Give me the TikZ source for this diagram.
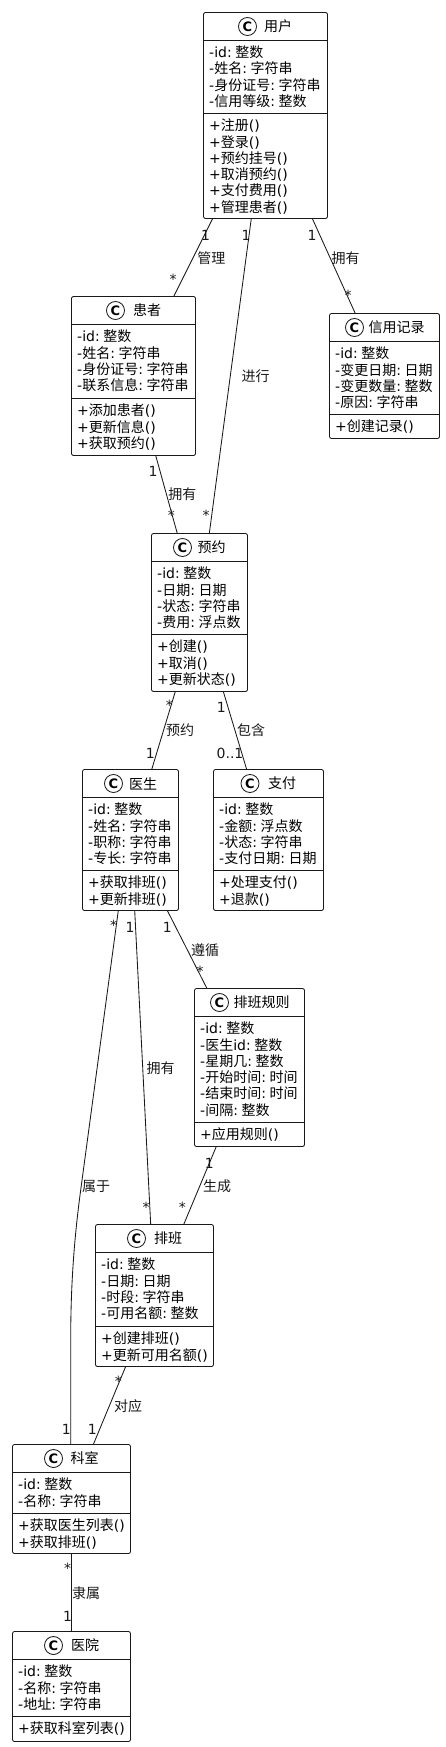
\documentclass[tikz,border=0pt]{standalone}
\usepackage{fontspec}
\setmainfont{DejaVu Sans}
\newfontfamily\cjk{Noto Sans CJK SC}
\newcommand\C[1]{{\cjk #1}}
\newcommand\F{:\hspace{3.6pt}}
\newcommand\firstline{\rule{0pt}{14pt}}
\tikzset{
  ink/.style={draw=black!90,line width=0.85pt},
  classbox/.style={ink,rectangle,rounded corners=2pt,anchor=north west,inner sep=0pt,outer sep=0pt},
  divider/.style={ink},
  badge/.style={ink,circle,minimum size=18pt,inner sep=0pt,font=\fontsize{13}{13}\selectfont\bfseries},
  classtitle/.style={inner sep=0pt,font=\fontsize{14}{16}\selectfont},
  rows/.style={anchor=north west,inner sep=0pt,align=left,font=\fontsize{14}{16.3}\selectfont},
  assoc/.style={ink},
  edgetext/.style={inner sep=0pt,font=\fontsize{14}{16}\selectfont,text=black!90},
}
% box: id, left, top, right, bottom, header line, fields line
\newcommand\classframe[7]{%
  \def\boxId{#1}\def\boxL{#2}\def\boxH{#6}\def\boxF{#7}\def\boxT{#3}%
  \node[classbox,minimum width={(#4-#2)*1pt},minimum height={(#5-#3)*1pt}] (#1) at (#2,#3) {};
  \draw[divider] (#2,#6) -- (#4,#6);
  \draw[divider] (#2,#7) -- (#4,#7);
}
% badge x, title x, title, fields, methods
\newcommand\classtext[5]{%
  \node[badge] (\boxId-badge) at (#1,\boxT+14) {C};
  \node[classtitle] (\boxId-title) at (#2,\boxT+14) {#3};
  \node[rows] (\boxId-fields) at (\boxL+5.5,\boxH+3) {\firstline #4};
  \node[rows] (\boxId-methods) at (\boxL+5.5,\boxF+3) {\firstline #5};
}
\begin{document}
\begin{tikzpicture}[x=1pt,y=-1pt]
\useasboundingbox (0,0) rectangle (445,1747);

\classframe{yonghu}{203.5}{12.5}{327.5}{218.5}{40.5}{113.5}
\classtext{247.5}{278}{\C{用户}}
 {-id\F\C{整数}\\-\C{姓名}\F\C{字符串}\\-\C{身份证号}\F\C{字符串}\\-\C{信用等级}\F\C{整数}}
 {+\C{注册}()\\+\C{登录}()\\+\C{预约挂号}()\\+\C{取消预约}()\\+\C{支付费用}()\\+\C{管理患者}()}

\classframe{huanzhe}{71.5}{296.5}{195.5}{455.5}{324.5}{398.5}
\classtext{115.5}{147}{\C{患者}}
 {-id\F\C{整数}\\-\C{姓名}\F\C{字符串}\\-\C{身份证号}\F\C{字符串}\\-\C{联系信息}\F\C{字符串}}
 {+\C{添加患者}()\\+\C{更新信息}()\\+\C{获取预约}()}

\classframe{xinyong}{329.5}{313.5}{439.5}{438.5}{341.5}{414.5}
\classtext{354.5}{396.7}{\C{信用记录}}
 {-id\F\C{整数}\\-\C{变更日期}\F\C{日期}\\-\C{变更数量}\F\C{整数}\\-\C{原因}\F\C{字符串}}
 {+\C{创建记录}()}

\classframe{yuyue}{151.5}{533.5}{247.5}{691.5}{561.5}{634.5}
\classtext{182.5}{211.7}{\C{预约}}
 {-id\F\C{整数}\\-\C{日期}\F\C{日期}\\-\C{状态}\F\C{字符串}\\-\C{费用}\F\C{浮点数}}
 {+\C{创建}()\\+\C{取消}()\\+\C{更新状态}()}

\classframe{yisheng}{82.5}{769.5}{178.5}{910.5}{797.5}{870.5}
\classtext{113.5}{143}{\C{医生}}
 {-id\F\C{整数}\\-\C{姓名}\F\C{字符串}\\-\C{职称}\F\C{字符串}\\-\C{专长}\F\C{字符串}}
 {+\C{获取排班}()\\+\C{更新排班}()}

\classframe{zhifu}{213.5}{769.5}{323.5}{910.5}{797.5}{870.5}
\classtext{250}{282}{\C{支付}}
 {-id\F\C{整数}\\-\C{金额}\F\C{浮点数}\\-\C{状态}\F\C{字符串}\\-\C{支付日期}\F\C{日期}}
 {+\C{处理支付}()\\+\C{退款}()}

\classframe{guize}{194.5}{988.5}{304.5}{1146.5}{1016.5}{1122.5}
\classtext{219.5}{261.7}{\C{排班规则}}
 {-id\F\C{整数}\\-\C{医生}id\F\C{整数}\\-\C{星期几}\F\C{整数}\\-\C{开始时间}\F\C{时间}\\-\C{结束时间}\F\C{时间}\\-\C{间隔}\F\C{整数}}
 {+\C{应用规则}()}

\classframe{paiban}{95.5}{1224.5}{213.5}{1366.5}{1252.5}{1326.5}
\classtext{136.5}{168}{\C{排班}}
 {-id\F\C{整数}\\-\C{日期}\F\C{日期}\\-\C{时段}\F\C{字符串}\\-\C{可用名额}\F\C{整数}}
 {+\C{创建排班}()\\+\C{更新可用名额}()}

\classframe{keshi}{12.5}{1444.5}{130.5}{1553.5}{1472.5}{1513.5}
\classtext{53.5}{84.7}{\C{科室}}
 {-id\F\C{整数}\\-\C{名称}\F\C{字符串}}
 {+\C{获取医生列表}()\\+\C{获取排班}()}

\classframe{yiyuan}{12.5}{1631.5}{130.5}{1741.5}{1659.5}{1716.5}
\classtext{53.5}{85}{\C{医院}}
 {-id\F\C{整数}\\-\C{名称}\F\C{字符串}\\-\C{地址}\F\C{字符串}}
 {+\C{获取科室列表}()}

% connectors
\draw[assoc] ([xshift=9.2pt]yonghu.south west) -- ([xshift=102.2pt]huanzhe.north west);
\draw[assoc] ([xshift=47.8pt]yonghu.south west) -- ([xshift=57.8pt]yuyue.north west);
\draw[assoc] ([xshift=108.8pt]yonghu.south west) -- ([xshift=25.8pt]xinyong.north west);
\draw[assoc] ([xshift=84.2pt]huanzhe.south west) -- ([xshift=25.8pt]yuyue.north west);
\draw[assoc] ([xshift=23.8pt]yuyue.south west) -- ([xshift=69.2pt]yisheng.north west);
\draw[assoc] ([xshift=71.8pt]yuyue.south west) -- ([xshift=33.2pt]zhifu.north west);
\coordinate (bendtop) at (80.7,1190);
\coordinate (bendlow) at (70.7,1340);
\draw[assoc] ([xshift=35.8pt]yisheng.south west) -- (bendtop) .. controls (73.5,1243) and (70.7,1290) .. (bendlow) -- ([xshift=58.2pt]keshi.north west);
\draw[assoc] ([xshift=52.2pt]yisheng.south west) -- ([xshift=55.2pt]paiban.north west);
\draw[assoc] ([xshift=84.8pt]yisheng.south west) -- ([xshift=12.5pt]guize.north west);
\draw[assoc] ([xshift=21.8pt]guize.south west) -- ([xshift=88.2pt]paiban.north west);
\draw[assoc] ([xshift=30.2pt]paiban.south west) -- ([xshift=80.8pt]keshi.north west);
\draw[assoc] ([xshift=59pt]keshi.south west) -- ([xshift=59pt]yiyuan.north west);

% labels
\node[edgetext] (l01) at (205.7,235.3) {1};
\node[edgetext] (l02) at (173,279.3) {*};
\node[edgetext] (l03) at (211.3,257.7) {\C{管理}};
\node[edgetext] (l04) at (246,235.3) {1};
\node[edgetext] (l05) at (206,515.7) {*};
\node[edgetext] (l06) at (255.7,375.7) {\C{进行}};
\node[edgetext] (l07) at (312,235.3) {1};
\node[edgetext] (l08) at (348,295.7) {*};
\node[edgetext] (l09) at (345.7,258) {\C{拥有}};
\node[edgetext] (l10) at (153,471.3) {1};
\node[edgetext] (l11) at (171.3,515.7) {*};
\node[edgetext] (l12) at (182.3,494) {\C{拥有}};
\node[edgetext] (l13) at (169.3,705.7) {*};
\node[edgetext] (l14) at (150.3,753.3) {1};
\node[edgetext] (l15) at (180,730) {\C{预约}};
\node[edgetext] (l16) at (221.3,707.3) {1};
\node[edgetext] (l17) at (230,753.3) {0..1};
\node[edgetext] (l18) at (251,730) {\C{包含}};
\node[edgetext] (l19) at (113.7,925.3) {*};
\node[edgetext] (l20) at (66.3,1429) {1};
\node[edgetext] (l21) at (96,1186) {\C{属于}};
\node[edgetext] (l22) at (130,927.3) {1};
\node[edgetext] (l23) at (146,1207.3) {*};
\node[edgetext] (l24) at (160.7,1068) {\C{拥有}};
\node[edgetext] (l25) at (167.3,927.3) {1};
\node[edgetext] (l26) at (200,971.3) {*};
\node[edgetext] (l27) at (205,950) {\C{遵循}};
\node[edgetext] (l28) at (209.3,1163.3) {1};
\node[edgetext] (l29) at (182.3,1207.3) {*};
\node[edgetext] (l30) at (217,1186) {\C{生成}};
\node[edgetext] (l31) at (118.3,1381.7) {*};
\node[edgetext] (l32) at (92.3,1429) {1};
\node[edgetext] (l33) at (128,1406) {\C{对应}};
\node[edgetext] (l34) at (67.7,1568.7) {*};
\node[edgetext] (l35) at (67.7,1616) {1};
\node[edgetext] (l36) at (86,1593) {\C{隶属}};
\end{tikzpicture}
\end{document}
